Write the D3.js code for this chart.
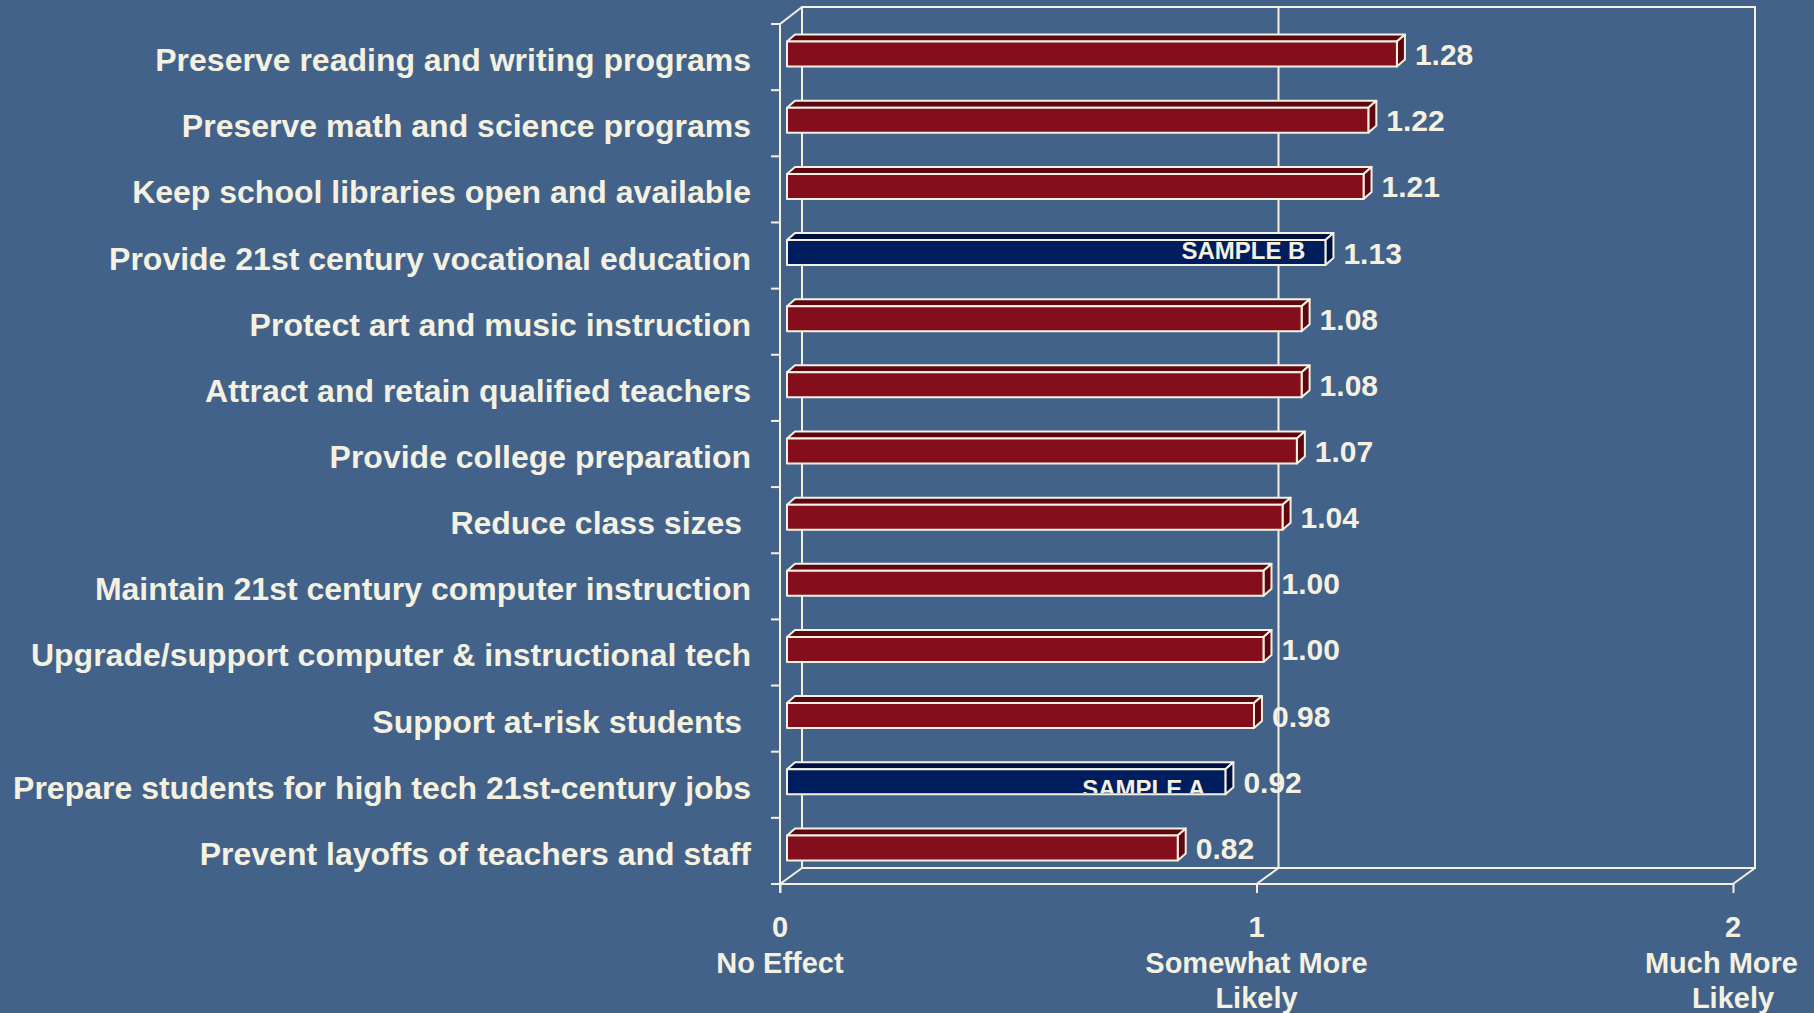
<!DOCTYPE html>
<html>
<head>
<meta charset="utf-8">
<script src="https://cdn.jsdelivr.net/npm/d3@7"></script>
<style>
  html, body { margin: 0; padding: 0; background: #42628a; }
  svg { display: block; }
  text { font-family: "Liberation Sans", Arial, sans-serif; font-weight: bold; fill: #f4f1e1; white-space: pre; }
</style>
</head>
<body>
<svg width="1814" height="1013"></svg>
<script>
// categories, top to bottom
const categories = [
  "Preserve reading and writing programs",
  "Preserve math and science programs",
  "Keep school libraries open and available",
  "Provide 21st century vocational education",
  "Protect art and music instruction",
  "Attract and retain qualified teachers",
  "Provide college preparation",
  "Reduce class sizes ",
  "Maintain 21st century computer instruction",
  "Upgrade/support computer & instructional tech",
  "Support at-risk students ",
  "Prepare students for high tech 21st-century jobs",
  "Prevent layoffs of teachers and staff"
];
const values = [1.28, 1.22, 1.21, 1.13, 1.08, 1.08, 1.07, 1.04, 1.00, 1.00, 0.98, 0.92, 0.82];
// bars marked as samples (drawn navy)
const sampleTags = ["", "", "", "SAMPLE B", "", "", "", "", "", "", "", "SAMPLE A", ""];
const tickValues = [0, 1, 2];
const tickLabels = [["0", "No Effect"], ["1", "Somewhat More", "Likely"], ["2", "Much More", "Likely"]];

const svg = d3.select("svg");
const cream = "#f4f1e1";

// 3d offsets of the back wall and of the bars
const depth = { dx: 22, dy: -16 };
const barOff = { dx: 7, dy: -3 };
const barDepth = { dx: 8, dy: -7 };
const barH = 25;

const x = d3.scaleLinear().domain([0, 2]).range([780, 1733]);
const y = d3.scaleBand().domain(categories).range([24, 884]).padding(0);

const frame = svg.append("g").attr("fill", "none").attr("stroke", cream).attr("stroke-width", 2);

// back wall
frame.append("rect")
  .attr("x", x(0) + depth.dx).attr("y", 24 + depth.dy - 1)
  .attr("width", x(2) - x(0)).attr("height", 884 - 24 + 1);

// gridline at 1 on the back wall
frame.append("line")
  .attr("x1", x(1) + depth.dx).attr("x2", x(1) + depth.dx)
  .attr("y1", 24 + depth.dy - 1).attr("y2", 884 + depth.dy);

// floor diagonals
frame.selectAll(".floor").data(tickValues).join("line")
  .attr("x1", d => x(d)).attr("y1", 884)
  .attr("x2", d => x(d) + depth.dx).attr("y2", 884 + depth.dy);

// top-left diagonal
frame.append("line")
  .attr("x1", x(0)).attr("y1", 24)
  .attr("x2", x(0) + depth.dx).attr("y2", 24 + depth.dy - 1);

// front left axis with ticks at category edges
frame.append("line").attr("x1", x(0)).attr("x2", x(0)).attr("y1", 24).attr("y2", 893);
const edges = d3.range(categories.length + 1).map(i => 24 + i * y.step());
frame.selectAll(".ytick").data(edges).join("line")
  .attr("x1", x(0) - 9).attr("x2", x(0)).attr("y1", d => d).attr("y2", d => d);

// front bottom axis
svg.append("g")
  .attr("transform", "translate(0,884)")
  .call(d3.axisBottom(x).tickValues(tickValues).tickSize(9).tickFormat(""))
  .call(g => g.select(".domain").attr("stroke", cream).attr("stroke-width", 2).attr("d", `M${x(0) - 9},0H${x(2)}`))
  .call(g => g.selectAll(".tick line").attr("stroke", cream).attr("stroke-width", 2));

// bars
const defs = svg.append("defs");
const bars = svg.append("g");
categories.forEach((c, i) => {
  const v = values[i];
  const isSample = sampleTags[i] !== "";
  const front = isSample ? "#001e5e" : "#850e1d";
  const dark = isSample ? "#001040" : "#5e0710";
  const cy = y(c) + y.bandwidth() / 2 + barOff.dy;
  const x0 = x(0) + barOff.dx, x1 = x(v) + barOff.dx;
  const top = cy - barH / 2, bot = cy + barH / 2;
  const g = bars.append("g").attr("stroke", cream).attr("stroke-width", 2).attr("stroke-linejoin", "round");

  g.append("polygon")
    .attr("points", [[x0, top], [x0 + barDepth.dx, top + barDepth.dy], [x1 + barDepth.dx, top + barDepth.dy], [x1, top]].join(" "))
    .attr("fill", dark);
  g.append("polygon")
    .attr("points", [[x1, top], [x1 + barDepth.dx, top + barDepth.dy], [x1 + barDepth.dx, bot + barDepth.dy], [x1, bot]].join(" "))
    .attr("fill", dark);
  g.append("rect")
    .attr("x", x0).attr("y", top).attr("width", x1 - x0).attr("height", barH)
    .attr("fill", front);

  if (isSample) {
    const clipId = "clip" + i;
    defs.append("clipPath").attr("id", clipId)
      .append("rect").attr("x", x0).attr("y", top).attr("width", x1 - x0).attr("height", barH - 1);
    bars.append("text")
      .attr("clip-path", `url(#${clipId})`)
      .attr("x", x1 - 20)
      .attr("y", i === 3 ? bot - 6 : bot + 3)
      .attr("text-anchor", "end")
      .attr("font-size", 24)
      .text(sampleTags[i]);
  }

  // value label
  bars.append("text")
    .attr("x", x1 + barDepth.dx + 10)
    .attr("y", cy + 11)
    .attr("font-size", 30)
    .text(v.toFixed(2));
});

// category labels
svg.append("g").selectAll("text").data(categories).join("text")
  .attr("x", 751)
  .attr("y", d => y(d) + y.bandwidth() / 2 + 14)
  .attr("text-anchor", "end")
  .attr("font-size", 32)
  .text(d => d);

// x tick labels, several lines each
const lineY = [937, 973, 1008];
const xl = svg.append("g").selectAll("text").data(tickValues).join("text")
  .attr("text-anchor", "middle")
  .attr("font-size", 29);
xl.selectAll("tspan").data((d, i) => tickLabels[i].map(s => ({ s, x: x(d) }))).join("tspan")
  .attr("x", d => d.x)
  .attr("y", (d, j) => lineY[j])
  .text(d => d.s);
// keep labels inside the right edge
xl.selectAll("tspan").each(function (d) {
  const w = this.getComputedTextLength();
  if (d.x + w / 2 > 1798) d3.select(this).attr("x", 1798 - w / 2);
});
</script>
</body>
</html>
